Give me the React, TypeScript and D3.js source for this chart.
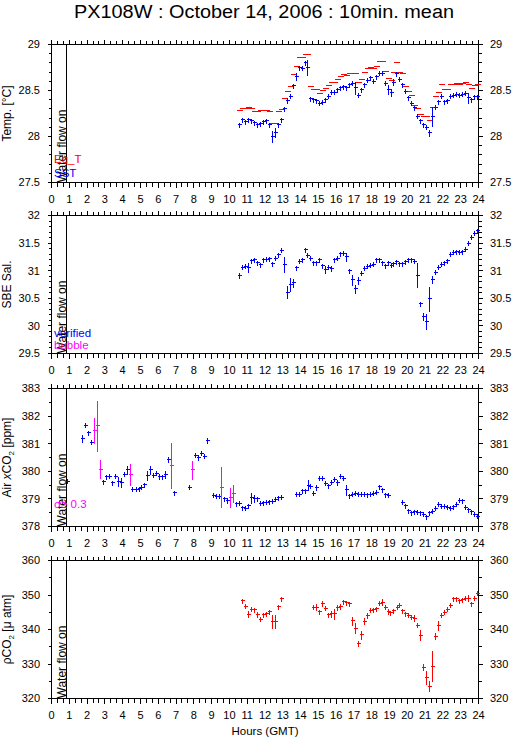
import React from 'react';
import * as d3 from 'd3';

const TITLE = 'PX108W : October 14, 2006 : 10min. mean';
const X_LABEL = 'Hours (GMT)';
const HOURS = d3.range(0, 25);
const GRID_START = 10.583; // first 10-min mean (hours GMT)
const GRID_STEP = 1 / 6;
const WATER_FLOW_ON = 0.84;
const WATER_TEXT = 'Water flow on';

// Panel 1: temperatures on the 10-min grid
const sst = [
  28.13, 28.18, 28.16, 28.18, 28.17, 28.15, 28.13, 28.14, 28.16, 28.17,
  28.13, 28.0, 28.04, 28.13, 28.18, 28.3, 28.39, 28.44, 28.55, 28.65,
  28.75, 28.74, 28.8, 28.75, 28.41, 28.4, 28.39, 28.36, 28.37, 28.4,
  28.44, 28.48, 28.48, 28.51, 28.53, 28.54, 28.53, 28.56, 28.58, 28.53,
  28.45, 28.51, 28.56, 28.61, 28.64, 28.6, 28.65, 28.69, 28.69, 28.58,
  28.51, 28.48, 28.59, 28.68, 28.62, 28.56, 28.49, 28.42, 28.36, 28.31,
  28.22, 28.17, 28.13, 28.1, 28.04, 28.22, 28.32, 28.38, 28.44, 28.38,
  28.39, 28.44, 28.45, 28.46, 28.45, 28.46, 28.47, 28.42, 28.4, 28.43, 28.43,
];
const sstSd: Record<number, number> = {
  11: 0.06, 12: 0.055, 15: 0.03, 16: 0.03, 19: 0.045, 23: 0.085, 39: 0.07,
  50: 0.055, 51: 0.045, 52: 0.04, 64: 0.04, 65: 0.11, 77: 0.06,
};
const eqT = [
  28.28, 28.3, 28.3, 28.31, 28.3, 28.27, 28.27, 28.28, 28.28, 28.28,
  28.27, 28.14, 28.14, 28.27, 28.29, 28.41, 28.49, 28.54, 28.67, 28.76,
  28.86, 28.86, 28.89, 28.89, 28.54, 28.51, 28.51, 28.47, 28.5, 28.52,
  28.55, 28.59, 28.59, 28.62, 28.65, 28.67, 28.66, 28.69, 28.69, 28.68,
  28.59, 28.62, 28.7, 28.74, 28.75, 28.74, 28.76, 28.81, 28.82, 28.71,
  28.63, 28.61, 28.7, 28.8, 28.7, 28.69, 28.54, 28.49, 28.45, 28.34,
  28.3, 28.24, 28.22, 28.22, 28.17, 28.31, 28.44, 28.48, 28.56, 28.51,
  28.51, 28.56, 28.57, 28.58, 28.57, 28.58, 28.59, 28.56, 28.52, 28.55, 28.56,
];

// Panel 2: salinity on the 10-min grid
const sal = [
  30.91, 31.06, 31.08, 31.06, 31.18, 31.2, 31.14, 31.11, 31.2, 31.21,
  31.22, 31.13, 31.23, 31.29, 31.37, 31.11, 30.61, 30.75, 30.78, 31.05,
  31.17, 31.2, 31.38, 31.28, 31.23, 31.14, 31.14, 31.2, 31.09, 31.02,
  31.06, 31.04, 31.2, 31.23, 31.31, 31.32, 31.25, 31.0, 30.84, 30.67,
  30.82, 30.95, 31.04, 31.08, 31.1, 31.12, 31.2, 31.2, 31.14, 31.09,
  31.14, 31.1, 31.13, 31.16, 31.13, 31.13, 31.16, 31.2, 31.2, 31.17,
  30.92, 30.4, 30.17, 30.08, 30.49, 30.84, 30.97, 31.06, 31.12, 31.14,
  31.18, 31.3, 31.33, 31.34, 31.33, 31.34, 31.39, 31.5, 31.61, 31.68, 31.72,
];
const salSd: Record<number, number> = {
  0: 0.05, 3: 0.085, 15: 0.15, 16: 0.12, 17: 0.13, 18: 0.08, 19: 0.05, 29: 0.07,
  31: 0.06, 36: 0.075, 38: 0.1, 39: 0.075, 40: 0.07, 60: 0.23, 62: 0.075,
  63: 0.15, 64: 0.225, 65: 0.065,
};

// Panel 3: atmospheric xCO2 [hour, ppm, sd]
const xco2Verified: [number, number, number][] = [
  [0.92, 379.64, 0.05], [1.75, 381.18, 0.15], [1.92, 381.67, 0.1], [2.08, 381.39, 0.1],
  [2.25, 381.06, 0.08], [2.42, 381.48, 0.1], [2.58, 381.67, 0.1], [2.92, 379.62, 0.04],
  [3.08, 379.81, 0.08], [3.25, 379.82, 0.08], [3.42, 379.59, 0.08], [3.58, 379.82, 0.06],
  [3.75, 379.62, 0.18], [3.92, 379.59, 0.18], [4.08, 379.9, 0.1], [4.25, 380.05, 0.15],
  [4.58, 379.35, 0.02], [4.75, 379.35, 0.02], [4.92, 379.37, 0.02], [5.08, 379.43, 0.03],
  [5.25, 379.52, 0.03], [5.42, 379.84, 0.18], [5.58, 380.05, 0.15], [5.75, 379.86, 0.03],
  [5.92, 379.93, 0.05], [6.08, 379.82, 0.1], [6.25, 379.8, 0.1], [6.42, 379.88, 0.15],
  [6.58, 380.42, 0.1], [6.92, 379.22, 0.03], [7.75, 379.42, 0.04], [8.08, 380.58, 0.05],
  [8.25, 380.5, 0.1], [8.42, 380.66, 0.04], [8.58, 380.55, 0.1], [8.75, 381.12, 0.1],
  [9.08, 379.13, 0.02], [9.25, 379.1, 0.02], [9.42, 379.1, 0.02], [9.75, 379.0, 0.1],
  [9.92, 378.95, 0.1], [10.42, 378.82, 0.02], [10.58, 378.85, 0.03], [10.75, 378.68, 0.04],
  [10.92, 378.67, 0.03], [11.08, 378.75, 0.04], [11.25, 379.04, 0.2], [11.42, 379.02, 0.15],
  [11.58, 379.0, 0.05], [11.75, 378.85, 0.02], [11.92, 378.86, 0.02], [12.08, 378.88, 0.02],
  [12.25, 378.89, 0.02], [12.42, 378.92, 0.02], [12.58, 378.99, 0.02], [12.75, 379.05, 0.03],
  [12.92, 379.06, 0.02], [13.75, 379.17, 0.02], [13.92, 379.17, 0.02], [14.08, 379.3, 0.05],
  [14.25, 379.3, 0.03], [14.42, 379.5, 0.2], [14.58, 379.46, 0.1], [14.75, 379.2, 0.06],
  [14.92, 379.42, 0.1], [15.08, 379.75, 0.06], [15.25, 379.74, 0.05], [15.42, 379.56, 0.08],
  [15.58, 379.47, 0.06], [15.75, 379.6, 0.05], [15.92, 379.72, 0.05], [16.08, 379.6, 0.1],
  [16.25, 379.82, 0.05], [16.42, 379.74, 0.08], [16.58, 379.33, 0.2], [16.75, 379.12, 0.05],
  [16.92, 379.17, 0.04], [17.08, 379.2, 0.04], [17.25, 379.17, 0.02], [17.42, 379.16, 0.02],
  [17.58, 379.16, 0.02], [17.75, 379.15, 0.02], [17.92, 379.17, 0.02], [18.08, 379.2, 0.02],
  [18.25, 379.24, 0.03], [18.42, 379.44, 0.03], [18.58, 379.33, 0.06], [18.75, 379.15, 0.05],
  [18.92, 379.14, 0.02], [19.75, 378.88, 0.03], [19.92, 378.75, 0.05], [20.08, 378.57, 0.03],
  [20.25, 378.49, 0.02], [20.42, 378.53, 0.02], [20.58, 378.52, 0.02], [20.75, 378.49, 0.03],
  [20.92, 378.45, 0.05], [21.08, 378.36, 0.07], [21.25, 378.49, 0.03], [21.42, 378.55, 0.03],
  [21.58, 378.66, 0.04], [21.75, 378.8, 0.06], [21.92, 378.74, 0.03], [22.08, 378.73, 0.02],
  [22.25, 378.7, 0.02], [22.42, 378.66, 0.02], [22.58, 378.72, 0.04], [22.75, 378.8, 0.03],
  [22.92, 378.95, 0.08], [23.08, 378.93, 0.08], [23.25, 378.7, 0.03], [23.42, 378.6, 0.03],
  [23.58, 378.53, 0.05], [23.75, 378.45, 0.05], [23.92, 378.38, 0.02],
];
const xco2HighSigma: [number, number, number][] = [
  [2.42, 381.48, 0.48], [2.58, 381.65, 0.92], [2.75, 380.08, 0.35], [4.42, 379.88, 0.4],
  [6.75, 380.21, 0.85], [7.92, 380.05, 0.33], [9.58, 379.42, 0.74], [10.08, 379.06, 0.36],
  [10.25, 379.2, 0.33],
];

// Panel 4: seawater pCO2 [hour, uatm, sd]
const pco2: [number, number, number][] = [
  [10.75, 348.3, 0.6], [10.92, 346.7, 0.5], [11.08, 344.4, 1.0], [11.25, 345.9, 0.3],
  [11.42, 345.7, 0.3], [11.58, 344.3, 0.8], [11.75, 343.0, 0.7], [11.92, 344.3, 0.3],
  [12.08, 344.6, 0.3], [12.25, 345.2, 0.5], [12.42, 342.3, 2.0], [12.58, 342.4, 2.0],
  [12.75, 346.6, 0.5], [12.92, 348.9, 0.8],
  [14.75, 346.5, 0.3], [14.92, 346.5, 1.0], [15.08, 345.1, 0.5], [15.25, 347.6, 0.8],
  [15.42, 346.1, 0.6], [15.58, 344.3, 0.5], [15.75, 344.6, 1.0], [15.92, 344.5, 1.6],
  [16.08, 346.4, 0.8], [16.25, 346.7, 0.8], [16.42, 348.1, 0.3], [16.58, 347.8, 0.3],
  [16.75, 347.4, 0.5], [16.92, 342.5, 1.2], [17.08, 340.4, 1.5], [17.25, 335.9, 0.8],
  [17.42, 338.5, 1.3], [17.58, 342.4, 1.0], [17.75, 344.0, 0.8], [17.92, 345.6, 0.6],
  [18.08, 345.7, 0.5], [18.25, 346.0, 0.4], [18.42, 347.6, 0.6], [18.58, 347.9, 1.0],
  [18.75, 346.5, 0.5], [18.92, 345.2, 0.8], [19.08, 344.9, 0.4], [19.25, 345.4, 0.3],
  [19.42, 346.5, 0.5], [19.58, 347.0, 0.4], [19.75, 345.5, 0.6], [19.92, 344.5, 0.3],
  [20.08, 344.1, 0.3], [20.25, 343.6, 0.3], [20.42, 343.3, 1.0], [20.58, 341.2, 0.3],
  [20.75, 338.4, 1.5], [20.92, 329.0, 1.0], [21.08, 326.0, 2.0], [21.25, 323.6, 1.5],
  [21.42, 329.3, 4.5], [21.58, 338.0, 1.0], [21.75, 341.2, 1.5], [21.92, 344.1, 0.6],
  [22.08, 345.0, 0.4], [22.25, 345.9, 0.5], [22.42, 347.0, 0.5], [22.58, 348.9, 0.6],
  [22.75, 348.9, 0.3], [22.92, 348.4, 0.3], [23.08, 348.6, 0.3], [23.25, 349.1, 0.3],
  [23.42, 349.1, 1.0], [23.58, 347.4, 0.8], [23.75, 349.1, 0.8], [23.92, 350.5, 0.3],
];

// ---------- layout ----------
const W = 515;
const H = 739;
const X0 = 51.5;
const X1 = 478.5;
const PANEL_TOPS = [44.5, 215.5, 388.5, 560.5];
const PH = 138;
const FONT = "'Liberation Sans', Arial, Helvetica, sans-serif";
const BLUE = '#0000ff';
const RED = '#ff0000';
const MAGENTA = '#ff00ff';

type Pt = { h: number; v: number; sd: number };
type Series = { pts: Pt[]; color: string; kind: 'cross' | 'dash' };
type Panel = {
  label: React.ReactNode;
  domain: [number, number];
  major: number;
  minor: number;
  series: Series[];
  legend: { text: string; color: string; dy: number }[];
};

const grid = (vals: number[], sd: Record<number, number>, def: number): Pt[] =>
  vals.map((v, i) => ({ h: GRID_START + i * GRID_STEP, v, sd: sd[i] ?? def }));
const rows = (r: [number, number, number][]): Pt[] => r.map(([h, v, sd]) => ({ h, v, sd }));

const panels: Panel[] = [
  {
    label: <>Temp. [°C]</>,
    domain: [27.5, 29],
    major: 0.5,
    minor: 0.1,
    series: [
      { pts: grid(eqT, {}, 0), color: RED, kind: 'dash' },
      { pts: grid(sst, sstSd, 0.02), color: BLUE, kind: 'cross' },
    ],
    legend: [
      { text: 'Eq_T', color: RED, dy: 118.5 },
      { text: 'SST', color: BLUE, dy: 132.5 },
    ],
  },
  {
    label: <>SBE Sal.</>,
    domain: [29.5, 32],
    major: 0.5,
    minor: 0.1,
    series: [{ pts: grid(sal, salSd, 0.03), color: BLUE, kind: 'cross' }],
    legend: [
      { text: 'verified', color: BLUE, dy: 121.5 },
      { text: 'bubble', color: MAGENTA, dy: 133.5 },
    ],
  },
  {
    label: (
      <>
        Air <tspan fontStyle="italic">x</tspan>CO<tspan fontSize="8" dy="3">2</tspan>
        <tspan dy="-3"> [ppm]</tspan>
      </>
    ),
    domain: [378, 383],
    major: 1,
    minor: 0.5,
    series: [
      { pts: rows(xco2Verified), color: BLUE, kind: 'cross' },
      { pts: rows(xco2HighSigma), color: MAGENTA, kind: 'cross' },
    ],
    legend: [{ text: 'σ≥ 0.3', color: MAGENTA, dy: 119 }],
  },
  {
    label: (
      <>
        ρCO<tspan fontSize="8" dy="3">2</tspan>
        <tspan dy="-3"> [μ atm]</tspan>
      </>
    ),
    domain: [320, 360],
    major: 10,
    minor: 5,
    series: [{ pts: rows(pco2), color: RED, kind: 'cross' }],
    legend: [],
  },
];

const x = d3.scaleLinear().domain([0, 24]).range([X0, X1]);
const crisp = (v: number) => Math.round(v - 0.5) + 0.5;

function stepTicks(d0: number, d1: number, step: number): number[] {
  const n = Math.round((d1 - d0) / step);
  return d3.range(n + 1).map((k) => +(d0 + k * step).toFixed(6));
}

function PanelView({ p, top }: { p: Panel; top: number }) {
  const bottom = top + PH;
  const y = d3.scaleLinear().domain(p.domain).range([bottom, top]);
  const majors = stepTicks(p.domain[0], p.domain[1], p.major);
  const minors = stepTicks(p.domain[0], p.domain[1], p.minor);
  const xMinors = stepTicks(0, 24, 1 / 3);
  const fmt = (v: number) => `${+v.toFixed(2)}`;

  let axisPath = '';
  xMinors.forEach((h) => {
    const isMajor = Math.abs(h - Math.round(h)) < 1e-6;
    const len = isMajor ? 5 : 4;
    const xx = crisp(x(h));
    axisPath += `M${xx},${top}V${top - len}M${xx},${bottom}V${bottom + len}`;
  });
  minors.forEach((v) => {
    const isMajor = majors.some((m) => Math.abs(m - v) < 1e-6);
    const len = isMajor ? 4 : 3;
    const yy = crisp(y(v));
    axisPath += `M${X0},${yy}H${X0 - len}M${X1},${yy}H${X1 + len}`;
  });

  const wx = crisp(x(WATER_FLOW_ON));

  return (
    <g>
      <rect x={X0} y={top} width={X1 - X0} height={PH} fill="none" stroke="#000" strokeWidth={1} />
      <path d={axisPath} stroke="#000" strokeWidth={1} fill="none" shapeRendering="crispEdges" />
      <line x1={wx} x2={wx} y1={top} y2={bottom} stroke="#000" strokeWidth={1} shapeRendering="crispEdges" />
      <text
        transform={`translate(${wx - 0.5},${bottom}) rotate(-90)`}
        fontSize={12}
        fontFamily={FONT}
        fill="#000"
      >
        {WATER_TEXT}
      </text>
      {p.series.map((s, si) => {
        let d = '';
        s.pts.forEach((pt) => {
          const cx = crisp(x(pt.h));
          const cy = crisp(y(pt.v));
          if (s.kind === 'dash') {
            d += `M${cx - 2.5},${cy}H${cx + 3}`;
          } else {
            const half = Math.max(y(pt.v - pt.sd) - y(pt.v), 2.5);
            d += `M${cx - 2},${cy}H${cx + 2.5}M${cx},${crisp(y(pt.v) - half)}V${crisp(y(pt.v) + half)}`;
          }
        });
        return <path key={si} d={d} stroke={s.color} strokeWidth={1} fill="none" shapeRendering="crispEdges" />;
      })}
      {p.legend.map((l, i) => (
        <text key={i} x={54} y={top + l.dy} fontSize={11.5} fontFamily={FONT} fill={l.color}>
          {l.text}
        </text>
      ))}
      {majors.map((v) => (
        <g key={v}>
          <text x={40} y={y(v)} dy="0.36em" textAnchor="end" fontSize={11} fontFamily={FONT}>
            {fmt(v)}
          </text>
          <text x={490} y={y(v)} dy="0.36em" textAnchor="start" fontSize={11} fontFamily={FONT}>
            {fmt(v)}
          </text>
        </g>
      ))}
      {HOURS.map((h) => (
        <text key={h} x={x(h)} y={bottom + 20.5} textAnchor="middle" fontSize={11} fontFamily={FONT}>
          {h}
        </text>
      ))}
      <text
        transform={`translate(11,${(top + bottom) / 2}) rotate(-90)`}
        textAnchor="middle"
        fontSize={12}
        fontFamily={FONT}
      >
        {p.label}
      </text>
    </g>
  );
}

export default function App() {
  return (
    <svg
      width={W}
      height={H}
      viewBox={`0 0 ${W} ${H}`}
      style={{ position: 'absolute', left: 0, top: 0, background: '#fff' }}
    >
      <rect x={0} y={0} width={W} height={H} fill="#fff" />
      <text
        x={264}
        y={17.5}
        textAnchor="middle"
        fontSize={18}
        fontFamily={FONT}
        textLength={380}
        lengthAdjust="spacingAndGlyphs"
      >
        {TITLE}
      </text>
      {panels.map((p, i) => (
        <PanelView key={i} p={p} top={PANEL_TOPS[i]} />
      ))}
      <text x={265} y={735} textAnchor="middle" fontSize={11.5} fontFamily={FONT}>
        {X_LABEL}
      </text>
    </svg>
  );
}
